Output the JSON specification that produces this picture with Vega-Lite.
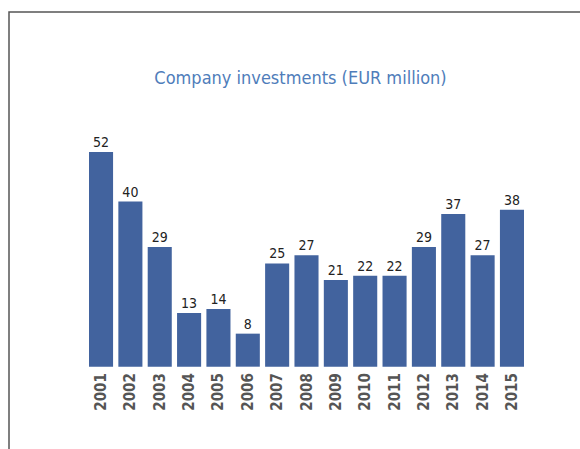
{
  "$schema": "https://vega.github.io/schema/vega-lite/v6.json",
  "autosize": {"type": "none"},
  "padding": {"left": 9, "top": 12, "right": 0, "bottom": 0},
  "width": 575,
  "height": 448,
  "background": "white",
  "config": {
    "view": {"stroke": "#555555", "strokeWidth": 1.5},
    "font": "DejaVu Sans Condensed"
  },
  "title": {
    "text": "Company investments (EUR million)",
    "frame": "group",
    "anchor": "middle",
    "orient": "top",
    "offset": -90,
    "baseline": "alphabetic",
    "dx": 4,
    "font": "DejaVu Sans Condensed",
    "fontSize": 18,
    "fontWeight": "normal",
    "color": "#4f7dba"
  },
  "data": {
    "values": [
      {"year": "2001", "value": 52},
      {"year": "2002", "value": 40},
      {"year": "2003", "value": 29},
      {"year": "2004", "value": 13},
      {"year": "2005", "value": 14},
      {"year": "2006", "value": 8},
      {"year": "2007", "value": 25},
      {"year": "2008", "value": 27},
      {"year": "2009", "value": 21},
      {"year": "2010", "value": 22},
      {"year": "2011", "value": 22},
      {"year": "2012", "value": 29},
      {"year": "2013", "value": 37},
      {"year": "2014", "value": 27},
      {"year": "2015", "value": 38}
    ]
  },
  "encoding": {
    "x": {
      "field": "year",
      "type": "ordinal",
      "sort": null,
      "scale": {"range": [80, 515], "paddingInner": 0.18, "paddingOuter": 0},
      "axis": {
        "title": null,
        "orient": "bottom",
        "offset": -93.3,
        "domain": false,
        "ticks": false,
        "labelAngle": 270,
        "labelAlign": "right",
        "labelBaseline": "middle",
        "labelPadding": 6,
        "labelFont": "DejaVu Sans Condensed",
        "labelFontSize": 15,
        "labelFontWeight": "bold",
        "labelColor": "#555555",
        "grid": false
      }
    },
    "y": {
      "field": "value",
      "type": "quantitative",
      "scale": {"domain": [-22.6, 85.9], "nice": false, "zero": false},
      "axis": null
    }
  },
  "layer": [
    {"mark": {"type": "bar", "color": "#42639e"}},
    {
      "mark": {
        "type": "text",
        "dy": -5,
        "baseline": "alphabetic",
        "font": "DejaVu Sans Condensed",
        "fontSize": 14,
        "color": "#222222"
      },
      "encoding": {"text": {"field": "value", "type": "quantitative"}}
    }
  ]
}
